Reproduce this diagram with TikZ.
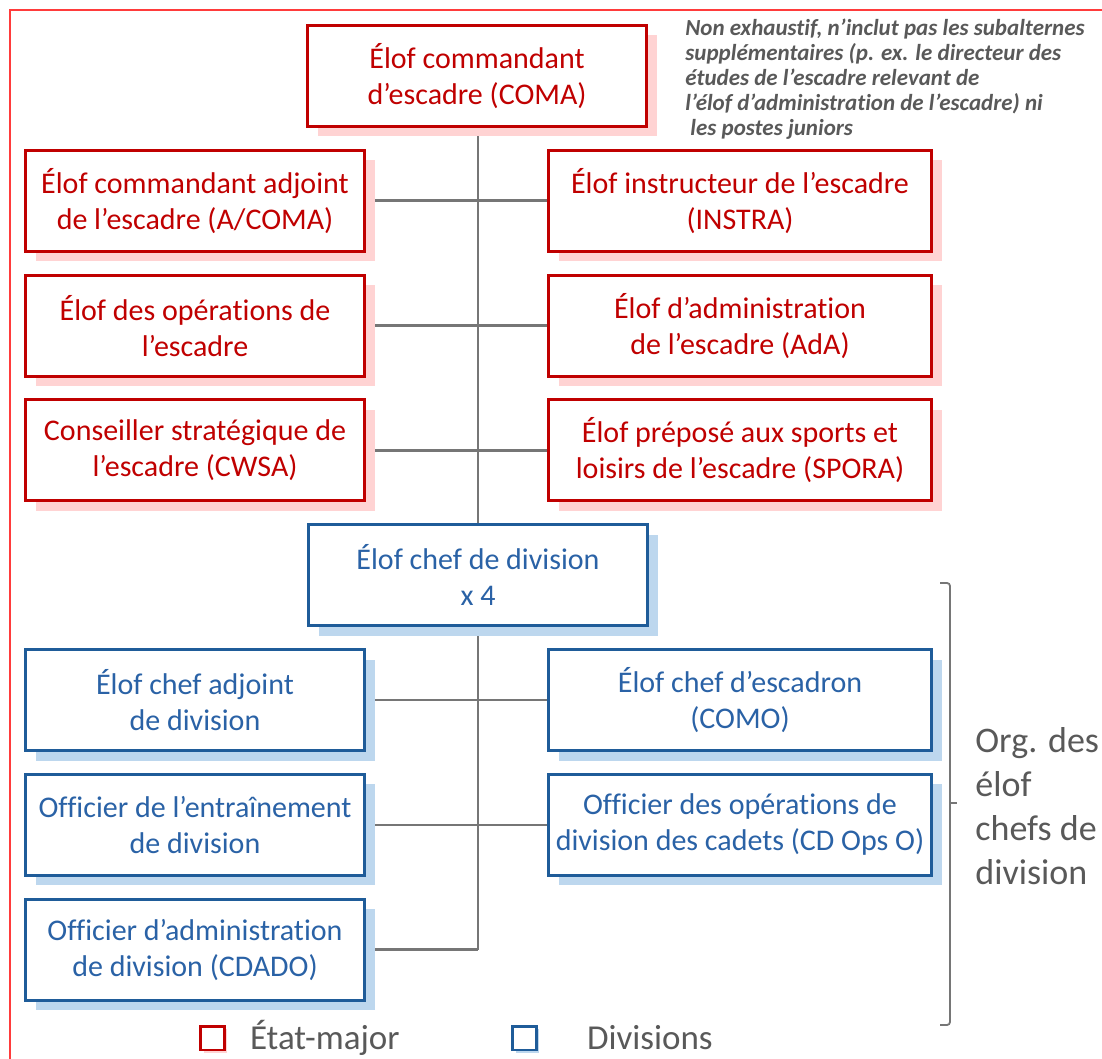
\documentclass[tikz,border=0pt]{standalone}
\usepackage{fontspec}
\setmainfont{Carlito}[Ligatures=NoCommon]
\usepackage{tikz}
\usetikzlibrary{positioning, backgrounds, shadows}
\definecolor{etatred}{HTML}{C00000}
\definecolor{etatshade}{HTML}{FFD3D3}
\definecolor{divblue}{HTML}{1F5C99}
\definecolor{divtext}{HTML}{2A62A6}
\definecolor{divshade}{HTML}{BDD7EE}
\definecolor{linkgray}{HTML}{767676}
\definecolor{notegray}{HTML}{595959}
\definecolor{framered}{HTML}{FF3B3B}
\tikzset{
  etat/.style={rectangle, draw=etatred, line width=1.5pt, fill=white, text=etatred, align=center, font=\fontsize{15}{18}\selectfont, minimum width=169.5pt, minimum height=50.5pt, inner sep=2pt, drop shadow={shadow xshift=5pt, shadow yshift=-5pt, fill=etatshade, opacity=1}},
  div/.style={rectangle, draw=divblue, line width=1.5pt, fill=white, text=divtext, align=center, font=\fontsize{15}{18}\selectfont, minimum width=169.5pt, minimum height=50.5pt, inner sep=2pt, drop shadow={shadow xshift=5pt, shadow yshift=-5pt, fill=divshade, opacity=1}},
  wide/.style={minimum width=191.5pt},
  link/.style={draw=linkgray, line width=1.3pt},
  legbox/.style={rectangle, line width=1.3pt, fill=white, minimum size=11.8pt, inner sep=0pt},
  legtext/.style={font=\fontsize{17.5}{21}\selectfont, text=notegray, inner sep=0pt},
  note/.style={font=\fontsize{11.5}{12.5}\selectfont\bfseries\itshape, text=notegray, align=left, inner sep=0pt},
}
\begin{document}
\begin{tikzpicture}[node distance=10.4pt]
\useasboundingbox (0,0) rectangle (551pt,-529.5pt);
\draw[framered, line width=0.8pt] (5pt,-529.5pt) -- (5pt,-5pt) -- (551pt,-5pt);
% etat-major
\node[etat] (coma) at (238.5pt,-38pt) {Élof commandant\\d’escadre (COMA)};
\node[etat, below=of coma, xshift=-141pt] (acoma) {Élof commandant adjoint\\de l’escadre (A/COMA)};
\node[etat, below=of acoma] (ops) {Élof des opérations de\\l’escadre};
\node[etat, below=of ops] (cwsa) {Conseiller stratégique de\\l’escadre (CWSA)};
\node[etat, wide, right=90.5pt of acoma] (instra) {Élof instructeur de l’escadre\\(INSTRA)};
\node[etat, wide, right=90.5pt of ops] (ada) {Élof d’administration\\de l’escadre (AdA)};
\node[etat, wide, right=90.5pt of cwsa] (spora) {Élof préposé aux sports et\\loisirs de l’escadre (SPORA)};
% divisions
\node[div, below=of cwsa, xshift=141.5pt] (chef) {Élof chef de division\\x 4};
\node[div, below=of chef, xshift=-141.5pt] (adjdiv) {Élof chef adjoint\\de division};
\node[div, below=of adjdiv] (entr) {Officier de l’entraînement\\de division};
\node[div, below=of entr] (cdado) {Officier d’administration\\de division (CDADO)};
\node[div, wide, right=90.5pt of adjdiv] (como) {Élof chef d’escadron\\(COMO)};
\node[div, wide, right=90.5pt of entr] (cdops) {Officier des opérations de\\division des cadets (CD Ops O)};
\begin{scope}[on background layer]
\draw[link] (chef.north |- coma.south) -- (chef.north);
\draw[link] (acoma.east) -- (instra.west);
\draw[link] (ops.east) -- (ada.west);
\draw[link] (cwsa.east) -- (spora.west);
\draw[link] (chef.south) -- (chef.south |- cdado.east);
\draw[link] (adjdiv.east) -- (como.west);
\draw[link] (entr.east) -- (cdops.west);
\draw[link] (cdado.east) -- (cdado.east -| chef.south);
\end{scope}
% note
\node[note, anchor=north west] (remark) at (342.5pt,-9.5pt) {Non exhaustif, n’inclut pas les subalternes\\supplémentaires (p. ex. le directeur des\\études de l’escadre relevant de\\l’élof d’administration de l’escadre) ni\\\hspace*{2.5pt}les postes juniors};
% brace
\coordinate (bracetip) at (478.5pt,-401.5pt);
\draw[linkgray, line width=0.9pt, rounded corners=1.5pt] (470pt,-291.5pt) -- (475pt,-291.5pt) -- (475pt,-512.5pt) -- (470pt,-512.5pt);
\draw[linkgray, line width=0.9pt] (475pt,-401.5pt) -- (bracetip);
\node[legtext, font=\fontsize{18}{22}\selectfont, align=left, right=9pt of bracetip, yshift=-1.5pt] (orglabel) {Org. des\\élof\\chefs de\\division};
% legend
\node[legbox, draw=etatred, drop shadow={shadow xshift=1.5pt, shadow yshift=-1.5pt, fill=etatshade, opacity=1}] (legetat) at (106.25pt,-519pt) {};
\node[legtext, right=12pt of legetat] (legetattxt) {État-major};
\node[legbox, draw=divblue, drop shadow={shadow xshift=1.5pt, shadow yshift=-1.5pt, fill=divshade, opacity=1}] (legdiv) at (262.25pt,-519pt) {};
\node[legtext, right=24.5pt of legdiv] (legdivtxt) {Divisions};
\end{tikzpicture}
\end{document}
